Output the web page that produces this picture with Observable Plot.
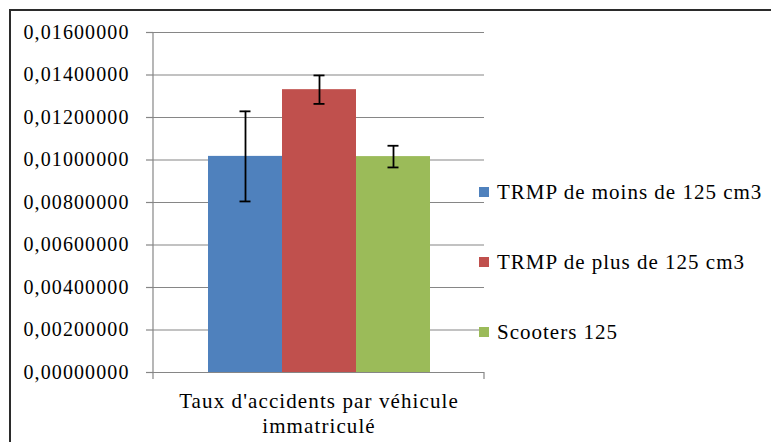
<!DOCTYPE html>
<html>
<head>
<meta charset="utf-8">
<script src="https://cdn.jsdelivr.net/npm/d3@7"></script>
<script src="https://cdn.jsdelivr.net/npm/@observablehq/plot@0.6"></script>
<style>
  html, body { margin: 0; padding: 0; background: #fff; }
  #wrap { position: relative; width: 771px; height: 442px; overflow: hidden; font-family: "Liberation Serif", "DejaVu Serif", serif; }
  #border { position: absolute; left: 9px; top: 9px; width: 900px; height: 600px; border-top: 2px solid #2b2b2b; border-left: 2px solid #2b2b2b; box-sizing: border-box; }
  #chart { position: absolute; left: 0; top: 0; }
  #chart svg text { letter-spacing: 1.1px; font-family: "Liberation Serif", "DejaVu Serif", serif; }
  .legend-row { position: absolute; left: 479px; height: 26px; display: flex; align-items: center; font-size: 21px; letter-spacing: 1px; color: #000; white-space: nowrap; font-family: "Liberation Serif", "DejaVu Serif", serif; }
  .legend-row .sw { width: 10px; height: 10px; margin-right: 8px; flex: none; }
</style>
</head>
<body>
<div id="wrap">
  <div id="border"></div>
  <div id="chart"></div>
</div>
<script>
// ---- data ----
const series = ["TRMP de moins de 125 cm3", "TRMP de plus de 125 cm3", "Scooters 125"];
const values = [0.01017, 0.01331, 0.01016];
const errors = [0.00212, 0.00067, 0.00051];
const colors = ["#4F81BD", "#C0504D", "#9BBB59"];
const yTicks = [0, 0.002, 0.004, 0.006, 0.008, 0.010, 0.012, 0.014, 0.016];
const categoryLabel = "Taux d'accidents par véhicule\nimmatriculé";

const data = series.map((s, i) => ({
  series: s,
  value: values[i],
  lo: values[i] - errors[i],
  hi: values[i] + errors[i]
}));

const fmt = d => d3.format(".8f")(d).replace(".", ",");

// axis line (left) and end ticks of the category axis
function axisLines(index, scales, vals, dim) {
  const g = d3.create("svg:g").attr("stroke", "#868686").attr("stroke-width", 1.2);
  const x0 = dim.marginLeft, x1 = dim.width - dim.marginRight;
  const y0 = dim.marginTop, y1 = dim.height - dim.marginBottom;
  g.append("line").attr("x1", x0).attr("x2", x0).attr("y1", y0).attr("y2", y1);
  g.append("line").attr("x1", x0).attr("x2", x0).attr("y1", y1).attr("y2", y1 + 7);
  g.append("line").attr("x1", x1).attr("x2", x1).attr("y1", y1).attr("y2", y1 + 7);
  return g.node();
}

const chart = Plot.plot({
  width: 771,
  height: 442,
  marginLeft: 153,
  marginRight: 287,
  marginTop: 32,
  marginBottom: 70,
  style: { fontFamily: "'Liberation Serif', 'DejaVu Serif', serif", fontSize: "20px", color: "#000", background: "transparent" },
  x: { type: "band", domain: series, range: [208, 430], padding: 0, axis: null },
  y: { domain: [0, 0.016], axis: null },
  color: { domain: series, range: colors },
  marks: [
    Plot.gridY(yTicks, { stroke: "#868686", strokeOpacity: 1, strokeWidth: 1.2 }),
    Plot.axisY(yTicks, { tickFormat: fmt, tickSize: 7, tickPadding: 17, stroke: "#868686", strokeWidth: 1.2, fontSize: 20, label: null }),
    Plot.barY(data, { x: "series", y: "value", fill: "series" }),
    Plot.ruleY([0], { stroke: "#868686", strokeWidth: 1.2 }),
    Plot.ruleX(data, { x: "series", y1: "lo", y2: "hi", stroke: "#000", strokeWidth: 1.8 }),
    Plot.tickY(data, { x: "series", y: "lo", insetLeft: 31.5, insetRight: 31.5, stroke: "#000", strokeWidth: 1.8 }),
    Plot.tickY(data, { x: "series", y: "hi", insetLeft: 31.5, insetRight: 31.5, stroke: "#000", strokeWidth: 1.8 }),
    Plot.text([categoryLabel], { frameAnchor: "bottom", lineAnchor: "top", dy: 17.5, lineHeight: 1.19, fontSize: 21, fill: "#000" }),
    axisLines
  ]
});
document.getElementById("chart").appendChild(chart);

// legend
const rowCenters = [192, 262, 332];
const wrap = document.getElementById("wrap");
series.forEach((s, i) => {
  const row = document.createElement("div");
  row.className = "legend-row";
  row.style.top = (rowCenters[i] - 13) + "px";
  const sw = document.createElement("span");
  sw.className = "sw";
  sw.style.background = colors[i];
  const t = document.createElement("span");
  t.textContent = s;
  row.appendChild(sw);
  row.appendChild(t);
  wrap.appendChild(row);
});
</script>
</body>
</html>
